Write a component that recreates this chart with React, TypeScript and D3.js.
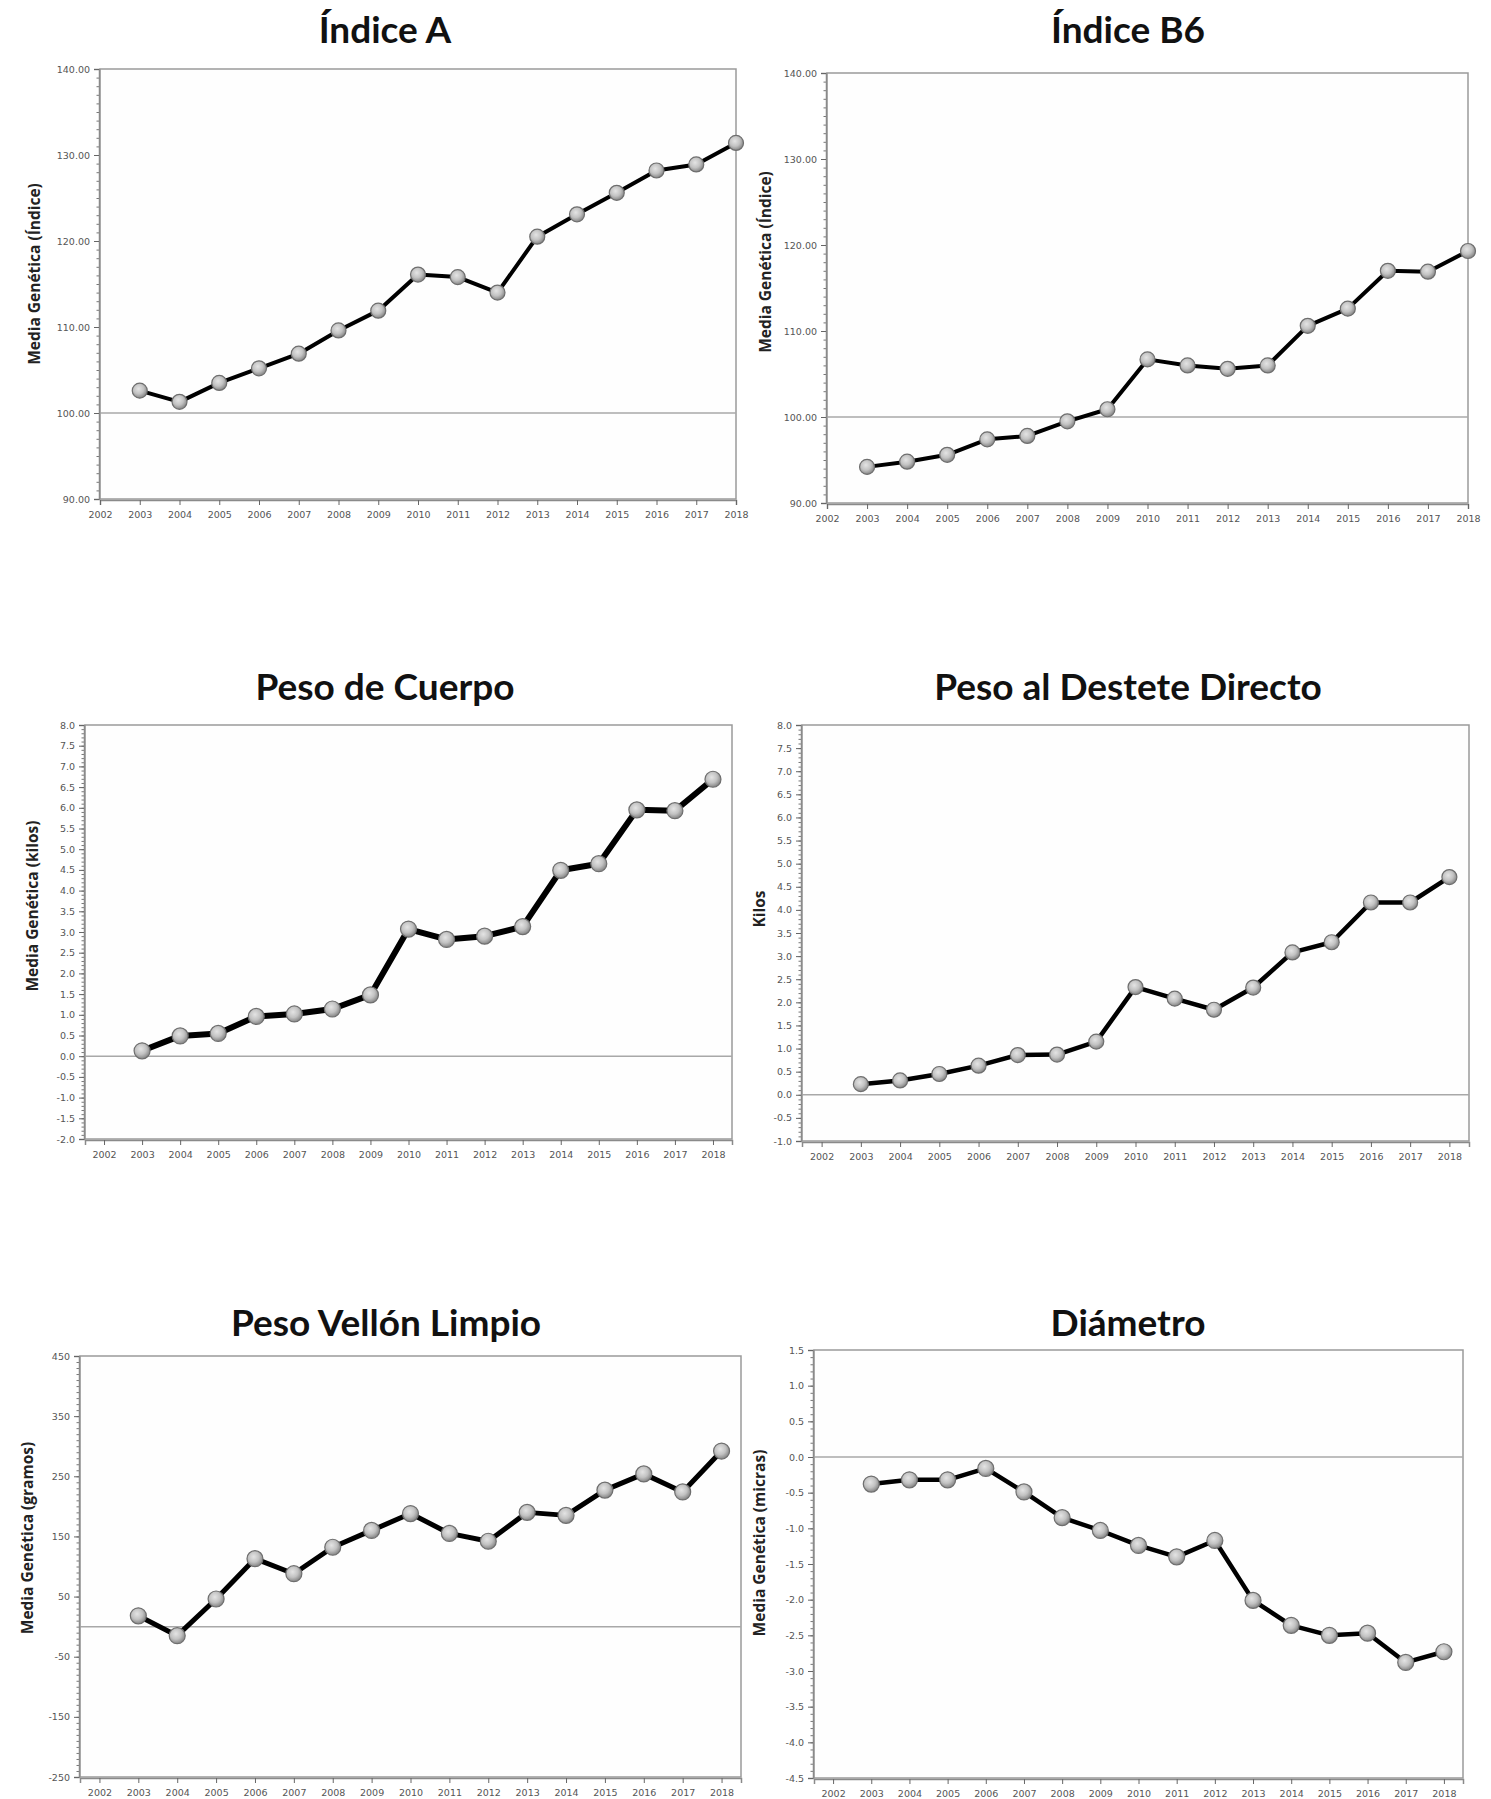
import { useEffect, useRef } from "react";
import * as d3 from "d3";

// years shown on the x axis
const yearTicks = [2002, 2003, 2004, 2005, 2006, 2007, 2008, 2009, 2010, 2011, 2012, 2013, 2014, 2015, 2016, 2017, 2018];
const years = [2003, 2004, 2005, 2006, 2007, 2008, 2009, 2010, 2011, 2012, 2013, 2014, 2015, 2016, 2017, 2018];

// series
const indiceA = [102.6, 101.3, 103.5, 105.2, 106.9, 109.6, 111.9, 116.1, 115.8, 114.0, 120.5, 123.1, 125.6, 128.2, 128.9, 131.4];
const indiceB6 = [94.2, 94.8, 95.6, 97.4, 97.8, 99.5, 100.9, 106.7, 106.0, 105.6, 106.0, 110.6, 112.6, 117.0, 116.9, 119.3];
const pesoCuerpo = [0.13, 0.49, 0.55, 0.96, 1.02, 1.14, 1.48, 3.07, 2.82, 2.9, 3.13, 4.49, 4.65, 5.95, 5.93, 6.69];
const pesoDestete = [0.23, 0.31, 0.45, 0.63, 0.86, 0.87, 1.15, 2.33, 2.08, 1.84, 2.32, 3.08, 3.3, 4.16, 4.16, 4.71];
const pesoVellon = [18, -15, 46, 113, 88, 132, 160, 188, 155, 142, 190, 185, 227, 254, 224, 292];
const diametro = [-0.38, -0.32, -0.32, -0.16, -0.49, -0.85, -1.03, -1.24, -1.4, -1.17, -2.01, -2.36, -2.5, -2.47, -2.88, -2.73];

// y tick values
const indexTicks = [90, 100, 110, 120, 130, 140];
const cuerpoTicks = d3.range(-2, 8.01, 0.5);
const desteteTicks = d3.range(-1, 8.01, 0.5);
const vellonTicks = [-250, -150, -50, 50, 150, 250, 350, 450];
const diametroTicks = d3.range(-4.5, 1.51, 0.5);

// d3 uses a unicode minus; the source charts use a plain hyphen
const locale = d3.formatLocale({ decimal: ".", thousands: "", grouping: [3], currency: ["", ""], minus: "-" });

interface PanelCfg {
  title: string;
  yLabel: string;
  values: number[];
  left: number;
  right: number;
  top: number;
  bottom: number;
  xDomain: [number, number];
  yDomain: [number, number];
  yTicks: number[];
  minorStep: number;
  fmt: string;
  refValue: number;
  titleX: number;
  titleY: number;
  labelX: number;
  labelY: number;
  lineWidth: number;
  r: number;
}

const panels: PanelCfg[] = [
  {
    title: "Índice A", yLabel: "Media Genética (Índice)", values: indiceA,
    left: 100, right: 736, top: 69, bottom: 499,
    xDomain: [2002, 2018], yDomain: [90, 140], yTicks: indexTicks, minorStep: 1, fmt: ".2f", refValue: 100,
    titleX: 385, titleY: 43, labelX: 36, labelY: 274, lineWidth: 4, r: 7.5,
  },
  {
    title: "Índice B6", yLabel: "Media Genética (Índice)", values: indiceB6,
    left: 827, right: 1468, top: 73, bottom: 503,
    xDomain: [2002, 2018], yDomain: [90, 140], yTicks: indexTicks, minorStep: 1, fmt: ".2f", refValue: 100,
    titleX: 1128, titleY: 43, labelX: 767, labelY: 262, lineWidth: 4, r: 7.5,
  },
  {
    title: "Peso de Cuerpo", yLabel: "Media Genética (kilos)", values: pesoCuerpo,
    left: 85, right: 732, top: 725, bottom: 1139,
    xDomain: [2001.5, 2018.5], yDomain: [-2, 8], yTicks: cuerpoTicks, minorStep: 0.1, fmt: ".1f", refValue: 0,
    titleX: 385, titleY: 700, labelX: 34, labelY: 906, lineWidth: 6, r: 8,
  },
  {
    title: "Peso al Destete Directo", yLabel: "Kilos", values: pesoDestete,
    left: 802, right: 1469, top: 725, bottom: 1141,
    xDomain: [2001.5, 2018.5], yDomain: [-1, 8], yTicks: desteteTicks, minorStep: 0.1, fmt: ".1f", refValue: 0,
    titleX: 1128, titleY: 700, labelX: 761, labelY: 909, lineWidth: 4.5, r: 7.5,
  },
  {
    title: "Peso Vellón Limpio", yLabel: "Media Genética (gramos)", values: pesoVellon,
    left: 80, right: 741, top: 1356, bottom: 1777,
    xDomain: [2001.5, 2018.5], yDomain: [-250, 450], yTicks: vellonTicks, minorStep: 10, fmt: "d", refValue: 0,
    titleX: 386, titleY: 1336, labelX: 29, labelY: 1538, lineWidth: 5, r: 8,
  },
  {
    title: "Diámetro", yLabel: "Media Genética (micras)", values: diametro,
    left: 814, right: 1463, top: 1350, bottom: 1778,
    xDomain: [2001.5, 2018.5], yDomain: [-4.5, 1.5], yTicks: diametroTicks, minorStep: 0.1, fmt: ".1f", refValue: 0,
    titleX: 1128, titleY: 1336, labelX: 761, labelY: 1543, lineWidth: 4.5, r: 8,
  },
];

function Panel({ cfg }: { cfg: PanelCfg }) {
  const xAxisRef = useRef<SVGGElement>(null);
  const yAxisRef = useRef<SVGGElement>(null);
  const yMinorRef = useRef<SVGGElement>(null);

  const x = d3.scaleLinear().domain(cfg.xDomain).range([cfg.left, cfg.right]);
  const y = d3.scaleLinear().domain(cfg.yDomain).range([cfg.bottom, cfg.top]);

  const points = years.map((yr, i) => ({ yr, v: cfg.values[i] }));
  const line = d3
    .line<{ yr: number; v: number }>()
    .x((d) => x(d.yr))
    .y((d) => y(d.v));

  useEffect(() => {
    if (!xAxisRef.current || !yAxisRef.current || !yMinorRef.current) return;

    // X axis
    d3.select(xAxisRef.current)
      .call(d3.axisBottom(x).tickValues(yearTicks).tickFormat(d3.format("d")).tickSize(5).tickPadding(6))
      .call((g) => g.select(".domain").attr("stroke", "#8a8a8a").attr("stroke-width", 1.5))
      .call((g) => g.selectAll(".tick line").attr("stroke", "#666"))
      .call((g) =>
        g.selectAll(".tick text")
          .attr("fill", "#555")
          .attr("font-family", "DejaVu Sans, sans-serif")
          .attr("font-size", "9.5px")
      );

    // Y minor ticks
    const [lo, hi] = cfg.yDomain;
    const minor = d3.range(lo, hi + cfg.minorStep / 2, cfg.minorStep);
    d3.select(yMinorRef.current)
      .call(d3.axisLeft(y).tickValues(minor).tickSize(2.5).tickFormat(() => ""))
      .call((g) => g.select(".domain").remove())
      .call((g) => g.selectAll(".tick line").attr("stroke", "#777"));

    // Y axis
    d3.select(yAxisRef.current)
      .call(d3.axisLeft(y).tickValues(cfg.yTicks).tickFormat(locale.format(cfg.fmt)).tickSize(5).tickPadding(4))
      .call((g) => g.select(".domain").attr("stroke", "#8a8a8a").attr("stroke-width", 1.5))
      .call((g) => g.selectAll(".tick line").attr("stroke", "#666"))
      .call((g) =>
        g.selectAll(".tick text")
          .attr("fill", "#555")
          .attr("font-family", "DejaVu Sans, sans-serif")
          .attr("font-size", "9.5px")
      );
  }, [cfg]);

  return (
    <g>
      <text
        x={cfg.titleX}
        y={cfg.titleY}
        textAnchor="middle"
        fontFamily="Lato, sans-serif"
        fontWeight={700}
        fontSize={37}
        fill="#111"
      >
        {cfg.title}
      </text>

      {/* plot frame */}
      <rect
        x={cfg.left}
        y={cfg.top}
        width={cfg.right - cfg.left}
        height={cfg.bottom - cfg.top}
        fill="#fefefe"
        stroke="#9a9a9a"
        strokeWidth={1.5}
      />

      {/* reference line */}
      <line
        x1={cfg.left}
        x2={cfg.right}
        y1={y(cfg.refValue)}
        y2={y(cfg.refValue)}
        stroke="#a8a8a8"
        strokeWidth={1.5}
      />

      <g ref={yMinorRef} transform={`translate(${cfg.left - 1},0)`} />
      <g ref={yAxisRef} transform={`translate(${cfg.left - 1},0)`} />
      <g ref={xAxisRef} transform={`translate(0,${cfg.bottom + 1})`} />

      <text
        transform={`translate(${cfg.labelX},${cfg.labelY}) rotate(-90)`}
        textAnchor="middle"
        dominantBaseline="middle"
        fontFamily="Open Sans, sans-serif"
        fontWeight={700}
        fontSize={15.5}
        fill="#222"
      >
        {cfg.yLabel}
      </text>

      <path
        d={line(points) || ""}
        fill="none"
        stroke="#000"
        strokeWidth={cfg.lineWidth}
        strokeLinejoin="round"
      />

      {points.map((d) => (
        <circle
          key={d.yr}
          cx={x(d.yr)}
          cy={y(d.v)}
          r={cfg.r}
          fill="url(#ball)"
          stroke="#6e6e6e"
          strokeWidth={1.2}
        />
      ))}
    </g>
  );
}

export default function App() {
  return (
    <svg
      width={1491}
      height={1799}
      style={{ position: "absolute", left: 0, top: 0, display: "block", background: "#fff" }}
    >
      <defs>
        <radialGradient id="ball" cx="42%" cy="38%" r="62%">
          <stop offset="0%" stopColor="#e4e4e4" />
          <stop offset="55%" stopColor="#c2c2c2" />
          <stop offset="100%" stopColor="#858585" />
        </radialGradient>
      </defs>
      {panels.map((p) => (
        <Panel key={p.title} cfg={p} />
      ))}
    </svg>
  );
}
